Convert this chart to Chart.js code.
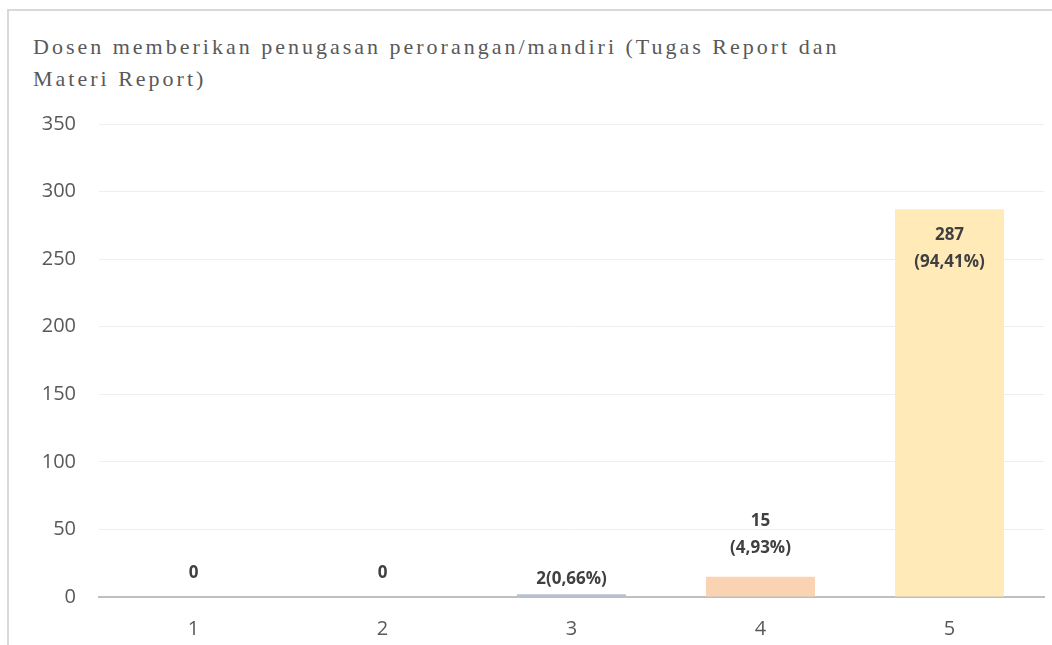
<!DOCTYPE html>
<html>
<head>
<meta charset="utf-8">
<script src="https://cdn.jsdelivr.net/npm/chart.js@4.4.0/dist/chart.umd.min.js"></script>
<style>
    html, body { margin: 0; padding: 0; background: #fff; overflow: hidden; }
    #wrap { position: relative; width: 1052px; height: 645px; }
    #frame {
        position: absolute; left: 7px; top: 9px; width: 1100px; height: 700px;
        border: 2px solid #d9d9d9; box-sizing: border-box;
    }
    #judul {
        position: absolute; left: 33px; top: 31px; width: 1000px;
        font-family: 'Liberation Serif', serif; font-size: 22px; line-height: 32px;
        letter-spacing: 3px; color: #595959; white-space: nowrap;
    }
    canvas { position: absolute; left: 0; top: 0; }
</style>
</head>
<body>
<div id="wrap">
    <div id="frame"></div>
    <div id="judul">Dosen memberikan penugasan perorangan/mandiri (Tugas Report dan<br>Materi Report)</div>
    <canvas id="chart" width="1052" height="645"></canvas>
</div>
<script>
// Data grafik
const kategori = ['1', '2', '3', '4', '5'];
const jumlah = [0, 0, 2, 15, 287];
const persen = ['', '', '0,66%', '4,93%', '94,41%'];
const warnaBatang = ['#bdd7ee', '#c5e0b4', '#b4c2d8', '#f9d3b2', '#ffeab8'];
const tickY = [0, 50, 100, 150, 200, 250, 300, 350];

// Label data di atas / di dalam batang
const labelPlugin = {
    id: 'labelBatang',
    afterDatasetsDraw(chart) {
        const ctx = chart.ctx;
        const meta = chart.getDatasetMeta(0);
        ctx.save();
        ctx.font = 'bold 17px "Open Sans", sans-serif';
        ctx.fillStyle = '#404040';
        ctx.textAlign = 'center';
        ctx.textBaseline = 'middle';
        meta.data.forEach((bar, i) => {
            const v = jumlah[i];
            const p = persen[i];
            if (v === 0) {
                ctx.fillText(String(v), bar.x, bar.y - 24);
            } else if (v > 100) {
                // di dalam batang
                ctx.fillText(String(v), bar.x, bar.y + 26);
                ctx.fillText('(' + p + ')', bar.x, bar.y + 53);
            } else if (v > 10) {
                ctx.fillText(String(v), bar.x, bar.y - 56);
                ctx.fillText('(' + p + ')', bar.x, bar.y - 29);
            } else {
                ctx.fillText(v + '(' + p + ')', bar.x, bar.y - 15);
            }
        });
        ctx.restore();
    }
};

const ctx = document.getElementById('chart').getContext('2d');
new Chart(ctx, {
    type: 'bar',
    data: {
        labels: kategori,
        datasets: [{
            data: jumlah,
            backgroundColor: warnaBatang,
            borderWidth: 0,
            categoryPercentage: 1,
            barPercentage: 0.577
        }]
    },
    options: {
        responsive: false,
        animation: false,
        layout: { padding: { left: 0, right: 8, top: 124, bottom: 0 } },
        plugins: {
            legend: { display: false },
            tooltip: { enabled: false }
        },
        scales: {
            x: {
                grid: { display: false },
                border: { color: '#bfbfbf', width: 2 },
                ticks: {
                    color: '#595959',
                    font: { family: 'Open Sans', size: 20 },
                    padding: 12
                },
                afterFit(scale) { scale.height = 48; }
            },
            y: {
                min: 0,
                max: 350,
                afterBuildTicks(scale) { scale.ticks = tickY.map(v => ({ value: v })); },
                grid: { color: '#eeeeee', lineWidth: 1, drawTicks: false },
                border: { display: false },
                ticks: {
                    color: '#595959',
                    font: { family: 'Open Sans', size: 20 },
                    padding: 23
                },
                afterFit(scale) { scale.width = 99; }
            }
        }
    },
    plugins: [labelPlugin]
});
</script>
</body>
</html>
